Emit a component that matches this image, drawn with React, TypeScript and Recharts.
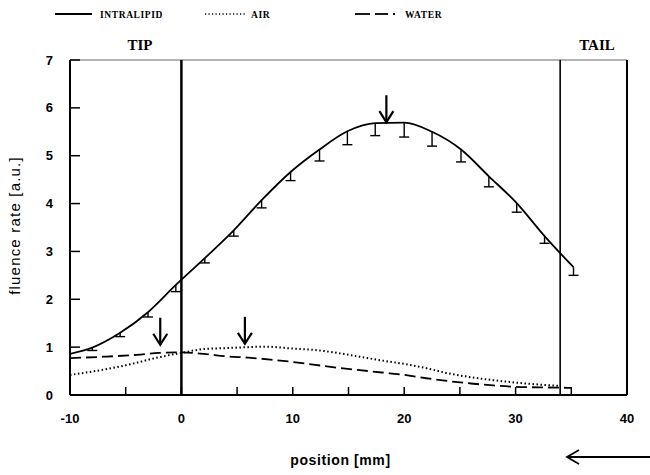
import React from "react";
import {
  LineChart,
  Line,
  XAxis,
  YAxis,
  ErrorBar,
  ReferenceLine,
  ReferenceDot,
} from "recharts";

// intralipid: measured fluence rate along the fibre, with lower error
const lipidPos = [-10, -8.0, -5.5, -3.0, -0.5, 2.1, 4.7, 7.2, 9.8, 12.4, 14.9, 17.4, 20.0, 22.5, 25.1, 27.6, 30.1, 32.6, 35.2];
const lipidVal = [0.86, 0.99, 1.3, 1.73, 2.3, 2.86, 3.44, 4.07, 4.66, 5.13, 5.51, 5.68, 5.69, 5.5, 5.13, 4.57, 4.01, 3.32, 2.67];
const lipidErr = [null, 0.06, 0.08, 0.1, 0.14, 0.1, 0.12, 0.16, 0.18, 0.24, 0.28, 0.26, 0.3, 0.3, 0.26, 0.22, 0.19, 0.15, 0.17];

// air
const airPos = [-10, -8, -5, -2, 0, 2, 4, 6, 7.5, 10, 12, 14, 16, 18, 20, 22, 24, 26, 28, 30, 32, 34];
const airVal = [0.42, 0.49, 0.62, 0.79, 0.88, 0.96, 0.98, 1.0, 1.01, 0.97, 0.94, 0.88, 0.8, 0.72, 0.65, 0.56, 0.45, 0.37, 0.31, 0.26, 0.22, 0.19];

// water
const waterPos = [-10, -7, -4, -2, 0, 2, 4, 6, 8, 10, 12, 14, 16, 18, 20, 22, 24, 26, 28, 30, 32, 35];
const waterVal = [0.77, 0.8, 0.84, 0.88, 0.89, 0.86, 0.81, 0.78, 0.74, 0.69, 0.63, 0.57, 0.52, 0.47, 0.42, 0.35, 0.29, 0.24, 0.2, 0.17, 0.16, 0.15];

// maxima markers (position, value)
const peakPos = [-1.9, 5.7, 18.4];
const peakVal = [1.05, 1.07, 5.7];

const xTicks = [-10, -5, 0, 5, 10, 15, 20, 25, 30, 35, 40];
const yTicks = [0, 1, 2, 3, 4, 5, 6, 7];

const lipidData = lipidPos.map((x, i) => ({
  x,
  v: lipidVal[i],
  err: lipidErr[i] == null ? undefined : [lipidErr[i], 0],
}));
// lower ends of the error bars, used for the caps
const capData = lipidPos
  .map((x, i) => ({ x, v: lipidErr[i] == null ? null : lipidVal[i] - (lipidErr[i] as number) }))
  .filter((d) => d.v != null);
const airData = airPos.map((x, i) => ({ x, v: airVal[i] }));
const waterData = waterPos.map((x, i) => ({ x, v: waterVal[i] }));

const ArrowDown = (props: any) => {
  const { cx, cy } = props;
  return (
    <g stroke="#000" strokeWidth={2.2} fill="none">
      <line x1={cx} y1={cy - 27} x2={cx} y2={cy} />
      <polyline points={`${cx - 7},${cy - 11} ${cx},${cy} ${cx + 7},${cy - 11}`} />
    </g>
  );
};

const Cap = (props: any) => {
  const { cx, cy, index } = props;
  if (cx == null || cy == null) return <g key={index} />;
  return <line key={index} x1={cx - 5} y1={cy} x2={cx + 5} y2={cy} stroke="#000" strokeWidth={1.4} />;
};

const tickStyle = { fontFamily: "Liberation Sans, Arial, sans-serif", fontSize: 13, fontWeight: 700, fill: "#000" };
const legendFont = { fontFamily: "Liberation Serif, serif", fontSize: 9.5, fontWeight: 700, letterSpacing: 0.6 };
const tagFont = { fontFamily: "Liberation Serif, serif", fontSize: 15, fontWeight: 700 };

export default function App() {
  return (
    <div style={{ position: "absolute", left: 0, top: 0, width: 650, height: 475, background: "#fff" }}>
      <LineChart width={650} height={475} margin={{ top: 60, right: 23, bottom: 0, left: 0 }}>
        <XAxis
          dataKey="x"
          type="number"
          domain={[-10, 40]}
          ticks={xTicks}
          tickFormatter={(t: number) => (t % 10 === 0 ? String(t) : "")}
          tickSize={-8}
          tickMargin={27}
          height={80}
          allowDataOverflow
          axisLine={{ stroke: "#000", strokeWidth: 2 }}
          tickLine={{ stroke: "#000", strokeWidth: 1.5 }}
          tick={tickStyle}
          label={{
            content: (p: any) => (
              <text
                x={p.viewBox.x + p.viewBox.width / 2 - 8}
                y={p.viewBox.y + 70}
                textAnchor="middle"
                style={{ fontFamily: "Liberation Sans, Arial, sans-serif", fontSize: 14, fontWeight: 700, letterSpacing: 0.6, fill: "#000" }}
              >
                position [mm]
              </text>
            ),
          }}
        />
        <YAxis
          type="number"
          domain={[0, 7]}
          ticks={yTicks}
          tickSize={-10}
          tickMargin={27}
          width={70}
          allowDataOverflow
          axisLine={{ stroke: "#000", strokeWidth: 2 }}
          tickLine={{ stroke: "#000", strokeWidth: 1.5 }}
          tick={tickStyle}
          label={{
            content: (p: any) => {
              const x = p.viewBox.x + 20;
              const y = p.viewBox.y + p.viewBox.height / 2 - 2;
              return (
                <text
                  x={x}
                  y={y}
                  textAnchor="middle"
                  transform={`rotate(-90, ${x}, ${y})`}
                  style={{ fontFamily: "Liberation Sans, Arial, sans-serif", fontSize: 15, letterSpacing: 1.2, fill: "#000" }}
                >
                  fluence rate [a.u.]
                </text>
              );
            },
          }}
        />

        {/* frame and fibre tip / tail markers */}
        <ReferenceLine y={7} stroke="#666" strokeWidth={1} />
        <ReferenceLine x={40} stroke="#000" strokeWidth={2} />
        <ReferenceLine x={0} stroke="#000" strokeWidth={2.5} />
        <ReferenceLine x={34} stroke="#000" strokeWidth={1.6} />

        <Line
          data={lipidData}
          dataKey="v"
          type="monotone"
          stroke="#000"
          strokeWidth={1.8}
          dot={false}
          isAnimationActive={false}
        >
          <ErrorBar dataKey="err" direction="y" width={0} stroke="#000" strokeWidth={1.4} />
        </Line>
        <Line
          data={capData}
          dataKey="v"
          stroke="none"
          dot={Cap}
          activeDot={false}
          legendType="none"
          isAnimationActive={false}
        />
        <Line
          data={airData}
          dataKey="v"
          type="monotone"
          stroke="#000"
          strokeWidth={2}
          strokeDasharray="1.5 2.5"
          dot={false}
          isAnimationActive={false}
        />
        <Line
          data={waterData}
          dataKey="v"
          type="monotone"
          stroke="#000"
          strokeWidth={1.8}
          strokeDasharray="11 5"
          dot={false}
          isAnimationActive={false}
        />

        {peakPos.map((p, i) => (
          <ReferenceDot key={i} x={p} y={peakVal[i]} shape={ArrowDown} ifOverflow="visible" />
        ))}
      </LineChart>

      {/* legend, tip/tail tags and direction arrow */}
      <svg width={650} height={475} style={{ position: "absolute", left: 0, top: 0, pointerEvents: "none" }}>
        <line x1={55} y1={14} x2={92} y2={14} stroke="#000" strokeWidth={1.8} />
        <text x={100} y={18} style={legendFont}>INTRALIPID</text>
        <line x1={205} y1={14} x2={246} y2={14} stroke="#000" strokeWidth={1.6} strokeDasharray="1.2 2.3" />
        <text x={251} y={18} style={legendFont}>AIR</text>
        <line x1={355} y1={14} x2={370} y2={14} stroke="#000" strokeWidth={1.8} />
        <line x1={375} y1={14} x2={388} y2={14} stroke="#000" strokeWidth={1.8} />
        <line x1={393} y1={14} x2={395} y2={14} stroke="#000" strokeWidth={1.8} />
        <text x={405} y={18} style={legendFont}>WATER</text>
        <text x={140} y={50} textAnchor="middle" style={tagFont}>TIP</text>
        <text x={597} y={50} textAnchor="middle" style={tagFont}>TAIL</text>
        <line x1={568} y1={457} x2={650} y2={457} stroke="#000" strokeWidth={1.8} />
        <polyline points="579,450 567,457 579,464" stroke="#000" strokeWidth={1.8} fill="none" />
      </svg>
    </div>
  );
}
